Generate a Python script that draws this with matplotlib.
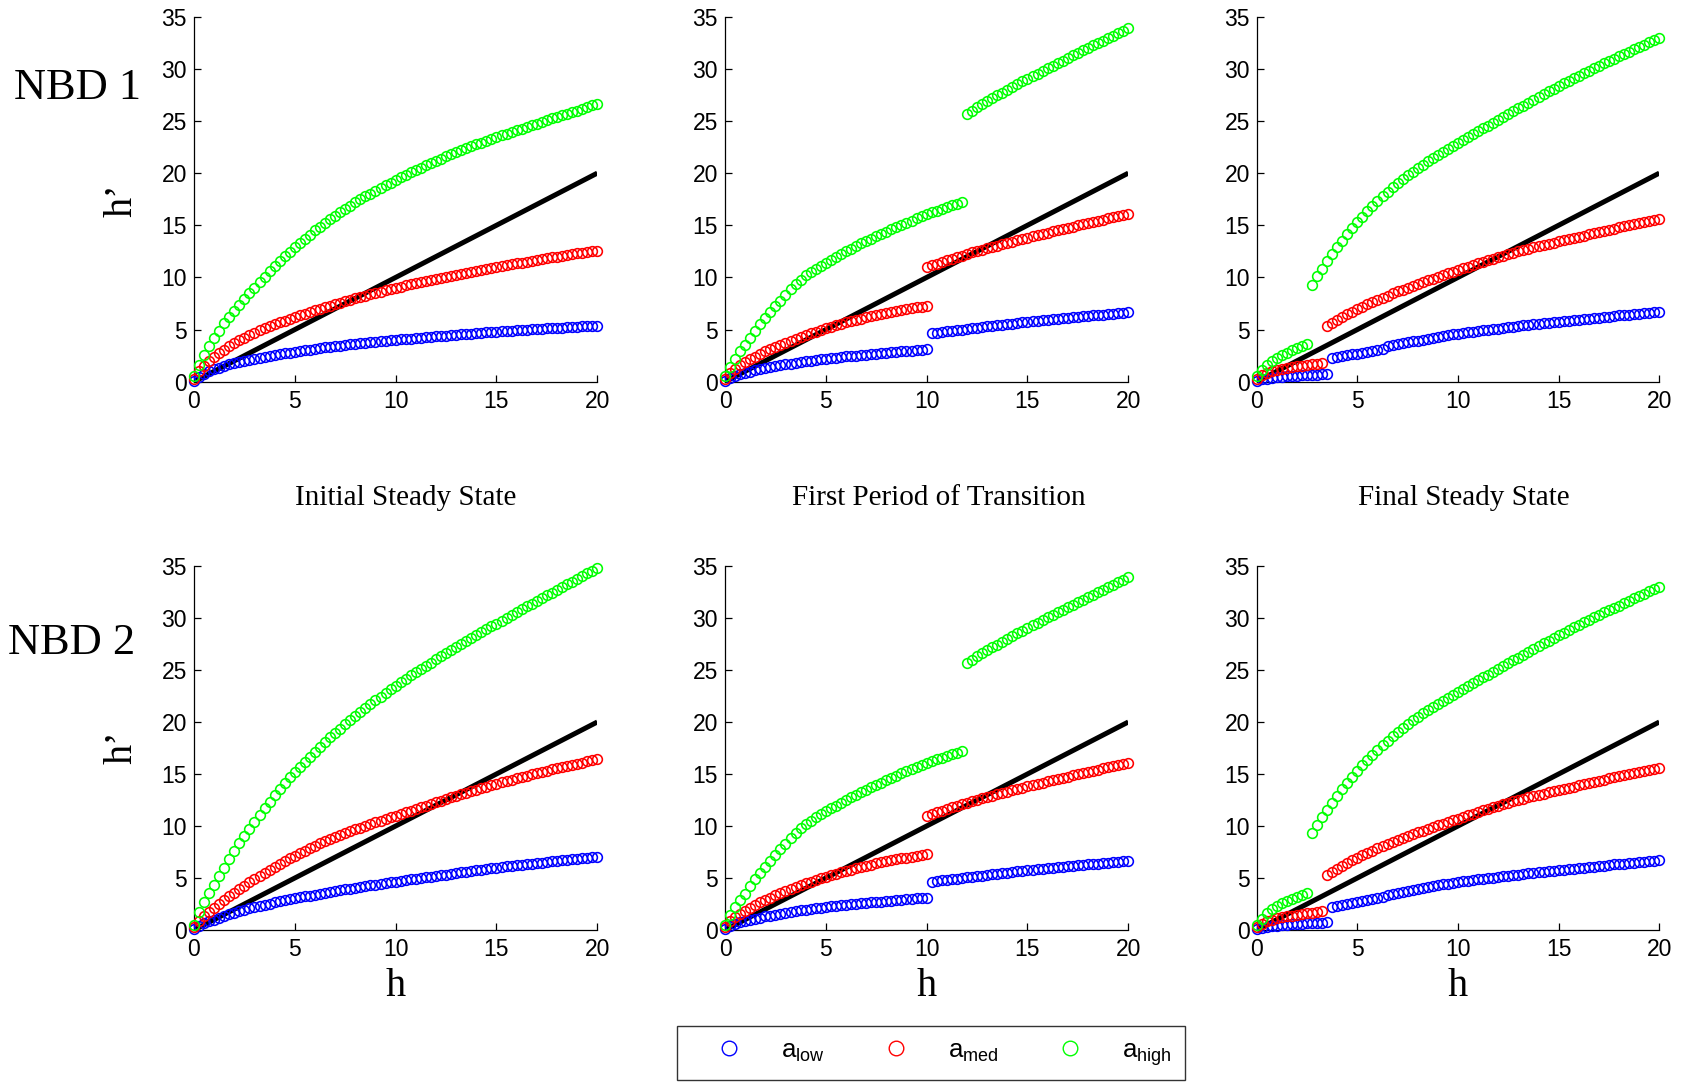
import numpy as np
import matplotlib
matplotlib.use("Agg")
import matplotlib.pyplot as plt
from matplotlib.lines import Line2D

plt.rcParams['font.family'] = 'Liberation Sans'
plt.rcParams['mathtext.fontset'] = 'custom'
plt.rcParams['mathtext.rm'] = 'Liberation Sans'
plt.rcParams['mathtext.it'] = 'Liberation Sans:italic'

STEP = 0.25

# ---- NBD 1, initial steady state (h from 0 to 20) ----
nbd1_init_low = [0.1, 0.45, 0.75, 1.0, 1.2, 1.36, 1.51, 1.66, 1.8, 1.91, 2.01, 2.11, 2.2,
                 2.29, 2.38, 2.47, 2.55, 2.63, 2.72, 2.8, 2.88, 2.95, 3.02, 3.08, 3.15,
                 3.21, 3.28, 3.34, 3.4, 3.46, 3.51, 3.57, 3.62, 3.67, 3.72, 3.77, 3.82,
                 3.87, 3.91, 3.96, 4.0, 4.05, 4.09, 4.14, 4.18, 4.22, 4.26, 4.3, 4.34,
                 4.38, 4.42, 4.46, 4.5, 4.54, 4.58, 4.61, 4.65, 4.69, 4.73, 4.76, 4.8,
                 4.83, 4.87, 4.9, 4.93, 4.96, 4.99, 5.02, 5.05, 5.08, 5.11, 5.13, 5.16,
                 5.19, 5.22, 5.24, 5.27, 5.3, 5.32, 5.35, 5.37]
nbd1_init_med = [0.3, 1.0, 1.55, 2.0, 2.4, 2.75, 3.07, 3.39, 3.7, 3.96, 4.22, 4.47, 4.7,
                 4.91, 5.11, 5.31, 5.5, 5.68, 5.86, 6.03, 6.2, 6.37, 6.53, 6.69, 6.85,
                 7.0, 7.15, 7.3, 7.45, 7.59, 7.73, 7.87, 8.0, 8.13, 8.26, 8.39, 8.52,
                 8.64, 8.76, 8.88, 9.0, 9.11, 9.23, 9.34, 9.45, 9.56, 9.66, 9.77, 9.87,
                 9.97, 10.07, 10.17, 10.27, 10.37, 10.46, 10.56, 10.65, 10.74, 10.83, 10.91, 11.0,
                 11.09, 11.18, 11.26, 11.35, 11.43, 11.51, 11.6, 11.68, 11.76, 11.84, 11.92, 12.0,
                 12.08, 12.15, 12.23, 12.3, 12.37, 12.44, 12.51, 12.58]
nbd1_init_high = [0.5, 1.6, 2.6, 3.45, 4.2, 4.9, 5.6, 6.2, 6.8, 7.38, 7.94, 8.48, 9.0,
                  9.54, 10.07, 10.59, 11.1, 11.57, 12.03, 12.47, 12.9, 13.31, 13.72, 14.11, 14.5,
                  14.86, 15.21, 15.56, 15.9, 16.23, 16.56, 16.88, 17.2, 17.48, 17.76, 18.03, 18.3,
                  18.57, 18.84, 19.1, 19.35, 19.59, 19.83, 20.07, 20.3, 20.53, 20.76, 20.98, 21.2,
                  21.4, 21.6, 21.8, 22.0, 22.19, 22.38, 22.56, 22.75, 22.93, 23.1, 23.28, 23.45,
                  23.61, 23.78, 23.94, 24.1, 24.26, 24.43, 24.59, 24.75, 24.91, 25.08, 25.24, 25.4,
                  25.55, 25.7, 25.85, 26.0, 26.16, 26.33, 26.49, 26.65]

# ---- NBD 2, initial steady state (h from 0 to 20) ----
nbd2_init_low = [0.1, 0.4, 0.63, 0.83, 1.0, 1.17, 1.34, 1.5, 1.65, 1.79, 1.93, 2.07, 2.2,
                 2.32, 2.43, 2.54, 2.65, 2.75, 2.85, 2.95, 3.05, 3.14, 3.23, 3.31, 3.4,
                 3.49, 3.57, 3.66, 3.74, 3.82, 3.9, 3.97, 4.05, 4.13, 4.21, 4.28, 4.36,
                 4.43, 4.51, 4.58, 4.65, 4.72, 4.79, 4.86, 4.93, 5.0, 5.06, 5.13, 5.2,
                 5.27, 5.33, 5.4, 5.47, 5.54, 5.6, 5.67, 5.74, 5.8, 5.87, 5.93, 6.0,
                 6.05, 6.11, 6.16, 6.22, 6.27, 6.32, 6.38, 6.43, 6.48, 6.54, 6.59, 6.64,
                 6.69, 6.75, 6.8, 6.85, 6.9, 6.95, 7.0, 7.05]
nbd2_init_med = [0.3, 0.85, 1.3, 1.72, 2.1, 2.5, 2.88, 3.25, 3.6, 3.94, 4.27, 4.59, 4.9,
                 5.21, 5.51, 5.81, 6.1, 6.37, 6.64, 6.9, 7.15, 7.4, 7.64, 7.87, 8.1,
                 8.32, 8.53, 8.74, 8.95, 9.14, 9.32, 9.5, 9.68, 9.85, 10.02, 10.19, 10.36,
                 10.52, 10.68, 10.84, 11.0, 11.16, 11.33, 11.49, 11.65, 11.81, 11.97, 12.12, 12.28,
                 12.44, 12.59, 12.75, 12.9, 13.05, 13.2, 13.35, 13.5, 13.64, 13.79, 13.93, 14.07,
                 14.2, 14.34, 14.47, 14.6, 14.73, 14.85, 14.98, 15.1, 15.22, 15.33, 15.45, 15.57,
                 15.68, 15.79, 15.89, 16.0, 16.1, 16.21, 16.31, 16.42]
nbd2_init_high = [0.5, 1.7, 2.7, 3.55, 4.3, 5.15, 5.98, 6.8, 7.6, 8.33, 9.05, 9.74, 10.4,
                  11.06, 11.71, 12.34, 12.95, 13.54, 14.12, 14.67, 15.2, 15.7, 16.2, 16.68, 17.15,
                  17.61, 18.07, 18.51, 18.95, 19.37, 19.79, 20.2, 20.6, 20.98, 21.36, 21.73, 22.1,
                  22.45, 22.8, 23.15, 23.5, 23.83, 24.15, 24.48, 24.8, 25.11, 25.42, 25.72, 26.03,
                  26.32, 26.62, 26.91, 27.2, 27.49, 27.77, 28.06, 28.35, 28.63, 28.91, 29.19, 29.47,
                  29.75, 30.02, 30.3, 30.57, 30.84, 31.11, 31.38, 31.65, 31.92, 32.18, 32.45, 32.71,
                  32.97, 33.24, 33.5, 33.76, 34.02, 34.28, 34.54, 34.8]

# ---- first period of transition (same in both rows), two pieces each ----
trans_low_a = [0.1, 0.38, 0.58, 0.73, 0.85, 0.97, 1.09, 1.2, 1.3, 1.39, 1.48, 1.57, 1.65,
               1.73, 1.8, 1.88, 1.95, 2.01, 2.08, 2.14, 2.2, 2.26, 2.31, 2.37, 2.42,
               2.47, 2.51, 2.56, 2.6, 2.65, 2.69, 2.74, 2.78, 2.82, 2.86, 2.91, 2.95,
               2.99, 3.03, 3.06, 3.1]                                   # h 0 .. 10
trans_low_b = [4.64, 4.7, 4.76, 4.82, 4.88, 4.94, 4.99, 5.05, 5.11, 5.17, 5.24, 5.3,
               5.36, 5.41, 5.47, 5.52, 5.57, 5.63, 5.68, 5.73, 5.78, 5.83, 5.88, 5.93,
               5.98, 6.03, 6.07, 6.12, 6.17, 6.21, 6.26, 6.3, 6.35, 6.39, 6.44, 6.48,
               6.52, 6.57, 6.61, 6.65]                                  # h 10.25 .. 20
trans_med_a = [0.3, 0.85, 1.25, 1.57, 1.85, 2.13, 2.4, 2.66, 2.9, 3.12, 3.34, 3.55, 3.75,
               3.94, 4.13, 4.31, 4.48, 4.65, 4.81, 4.97, 5.12, 5.27, 5.41, 5.55, 5.68,
               5.81, 5.94, 6.06, 6.18, 6.29, 6.4, 6.51, 6.62, 6.71, 6.8, 6.89, 6.97,
               7.05, 7.13, 7.2, 7.28]                                   # h 0 .. 10
trans_med_b = [11.0, 11.17, 11.33, 11.49, 11.65, 11.8, 11.95, 12.1, 12.25, 12.39, 12.53, 12.66, 12.8,
               12.93, 13.05, 13.18, 13.3, 13.43, 13.55, 13.68, 13.8, 13.93, 14.05, 14.18, 14.3,
               14.41, 14.53, 14.64, 14.75, 14.86, 14.98, 15.09, 15.2, 15.31, 15.43, 15.54, 15.65,
               15.75, 15.85, 15.95, 16.05]                              # h 10 .. 20
trans_high_a = [0.5, 1.4, 2.2, 2.9, 3.5, 4.2, 4.87, 5.5, 6.1, 6.68, 7.22, 7.75, 8.3,
                8.85, 9.35, 9.8, 10.2, 10.52, 10.83, 11.12, 11.4, 11.69, 11.97, 12.24, 12.5,
                12.76, 13.01, 13.26, 13.5, 13.73, 13.96, 14.18, 14.4, 14.62, 14.84, 15.05, 15.25,
                15.45, 15.65, 15.85, 16.05, 16.23, 16.4, 16.58, 16.75, 16.9, 17.05, 17.2]  # h 0 .. 11.75
trans_high_b = [25.7, 26.0, 26.3, 26.6, 26.9, 27.18, 27.45, 27.73, 28.0, 28.26, 28.53, 28.79, 29.05,
                29.3, 29.55, 29.8, 30.05, 30.3, 30.55, 30.8, 31.05, 31.29, 31.53, 31.76, 32.0,
                32.24, 32.48, 32.71, 32.95, 33.19, 33.43, 33.66, 33.9]  # h 12 .. 20

# ---- final steady state (same in both rows), two pieces each ----
final_low_a = [0.1, 0.22, 0.3, 0.37, 0.42, 0.47, 0.51, 0.54, 0.57, 0.6, 0.63, 0.66,
               0.69, 0.72, 0.75]                                        # h 0 .. 3.5
final_low_b = [2.25, 2.35, 2.44, 2.53, 2.62, 2.7, 2.79, 2.88, 2.96, 3.05, 3.13, 3.4, 3.5, 3.6,
               3.69, 3.78, 3.87, 3.95, 4.04, 4.13, 4.21, 4.3, 4.38, 4.45, 4.53, 4.6,
               4.67, 4.74, 4.8, 4.87, 4.93, 4.99, 5.04, 5.1, 5.16, 5.22, 5.27, 5.33,
               5.39, 5.44, 5.5, 5.55, 5.6, 5.65, 5.7, 5.75, 5.8, 5.85, 5.9, 5.95,
               6.0, 6.05, 6.1, 6.15, 6.2, 6.25, 6.3, 6.35, 6.39, 6.43, 6.48, 6.52,
               6.57, 6.61, 6.66, 6.7]                                   # h 3.75 .. 20
final_med_a = [0.3, 0.62, 0.85, 1.0, 1.12, 1.22, 1.31, 1.39, 1.46, 1.53, 1.6, 1.67,
               1.74, 1.8]                                               # h 0 .. 3.25
final_med_b = [5.3, 5.61, 5.9, 6.18, 6.45, 6.71, 6.95, 7.19, 7.42, 7.64, 7.85, 8.06, 8.26, 8.46, 8.65,
               8.84, 9.02, 9.2, 9.38, 9.55, 9.72, 9.89, 10.06, 10.22, 10.38, 10.54, 10.7,
               10.86, 11.03, 11.19, 11.35, 11.5, 11.65, 11.8, 11.95, 12.09, 12.23, 12.36, 12.5,
               12.63, 12.75, 12.88, 13.0, 13.11, 13.23, 13.34, 13.45, 13.56, 13.68, 13.79, 13.9,
               14.01, 14.13, 14.24, 14.35, 14.46, 14.58, 14.69, 14.8, 14.9, 15.0, 15.1, 15.2,
               15.3, 15.4, 15.5, 15.6]                                  # h 3.5 .. 20
final_high_a = [0.5, 1.1, 1.6, 2.0, 2.3, 2.55, 2.8, 3.0, 3.2, 3.4, 3.6]  # h 0 .. 2.5
final_high_b = [9.3, 10.1, 10.82, 11.53, 12.22, 12.9, 13.52, 14.13, 14.72, 15.3,
                15.83, 16.35, 16.86, 17.35, 17.79, 18.22, 18.64, 19.05, 19.42, 19.79, 20.15, 20.5,
                20.82, 21.13, 21.44, 21.75, 22.04, 22.33, 22.62, 22.9, 23.18, 23.45, 23.73, 24.0,
                24.28, 24.55, 24.83, 25.1, 25.38, 25.65, 25.93, 26.2, 26.48, 26.75, 27.03, 27.3,
                27.56, 27.83, 28.09, 28.35, 28.6, 28.85, 29.1, 29.35, 29.59, 29.83, 30.06, 30.3,
                30.53, 30.75, 30.98, 31.2, 31.43, 31.65, 31.88, 32.1, 32.33, 32.55, 32.78, 33.0]  # h 2.75 .. 20

diag_h = [0, 20]
col_titles = ['Initial Steady State', 'First Period of Transition', 'Final Steady State']
row_names = ['NBD 1', 'NBD 2']
legend_labels = [r'$\mathrm{a}_{\mathrm{low}}$', r'$\mathrm{a}_{\mathrm{med}}$', r'$\mathrm{a}_{\mathrm{high}}$']
colors = ['#0000ff', '#ff0000', '#00ff00']


def seg(start, vals):
    vals = np.asarray(vals, dtype=float)
    return start + STEP * np.arange(len(vals)), vals


# every panel: list of (color, start h, values)
trans = [(colors[0], 0, trans_low_a), (colors[0], 10.25, trans_low_b),
         (colors[1], 0, trans_med_a), (colors[1], 10, trans_med_b),
         (colors[2], 0, trans_high_a), (colors[2], 12, trans_high_b)]
final = [(colors[0], 0, final_low_a), (colors[0], 3.75, final_low_b),
         (colors[1], 0, final_med_a), (colors[1], 3.5, final_med_b),
         (colors[2], 0, final_high_a), (colors[2], 2.75, final_high_b)]
panels = [
    [[(colors[0], 0, nbd1_init_low), (colors[1], 0, nbd1_init_med), (colors[2], 0, nbd1_init_high)],
     trans, final],
    [[(colors[0], 0, nbd2_init_low), (colors[1], 0, nbd2_init_med), (colors[2], 0, nbd2_init_high)],
     trans, final],
]

W, H = 1693, 1083
fig = plt.figure(figsize=(W / 100, H / 100), dpi=100)

col_x = [(194, 597.3), (725, 1128.3), (1256.7, 1659.3)]
row_y = [(16.7, 381.7), (566, 930)]

for r in range(2):
    for c in range(3):
        x0, x1 = col_x[c]
        yt, yb = row_y[r]
        ax = fig.add_axes([x0 / W, 1 - yb / H, (x1 - x0) / W, (yb - yt) / H])
        ax.plot(diag_h, diag_h, color='k', lw=3.6, solid_capstyle='butt', zorder=2)
        for col, start, vals in panels[r][c]:
            hx, hy = seg(start, vals)
            ax.plot(hx, hy, ls='none', marker='o', ms=7.0, mfc='none', mec=col,
                    mew=1.15, clip_on=False, zorder=3)
        ax.set_xlim(0, 20)
        ax.set_ylim(0, 35)
        ax.set_xticks([0, 5, 10, 15, 20])
        ax.set_yticks(range(0, 36, 5))
        for s in ['top', 'right']:
            ax.spines[s].set_visible(False)
        for s in ['left', 'bottom']:
            ax.spines[s].set_linewidth(0.9)
        ax.tick_params(direction='in', length=5, width=0.9, labelsize=16.5)
        ax.tick_params(axis='x', pad=6)
        ax.tick_params(axis='y', pad=5)
        ax.patch.set_alpha(0)

serif = 'Liberation Serif'
fig.text(78 / W, 1 - 88 / H, row_names[0], family=serif, fontsize=32, ha='center', va='center')
fig.text(72 / W, 1 - 643 / H, row_names[1], family=serif, fontsize=32, ha='center', va='center')
for yy in [200, 747]:
    fig.text(122 / W, 1 - yy / H, 'h\u2019', family=serif, fontsize=29, rotation=90,
             ha='center', va='center')
title_x = [406, 939, 1464]
for c in range(3):
    fig.text(title_x[c] / W, 1 - 498 / H, col_titles[c], family=serif, fontsize=21,
             ha='center', va='center')
    fig.text(sum(col_x[c]) / 2 / W, 1 - 986 / H, 'h', family=serif, fontsize=29,
             ha='center', va='center')

handles = [Line2D([], [], ls='none', marker='o', ms=10.5, mfc='none', mec=col, mew=1)
           for col in colors]
leg = fig.legend(handles, legend_labels, loc='center', bbox_to_anchor=(931 / W, 1 - 1053 / H),
                 ncol=3, frameon=True, fancybox=False, fontsize=18.5, handlelength=3.0,
                 handletextpad=0.55, columnspacing=1.25, borderpad=0.5, borderaxespad=0)
leg.get_frame().set_edgecolor('k')
leg.get_frame().set_linewidth(1.0)

fig.savefig('out.png', dpi=100)
